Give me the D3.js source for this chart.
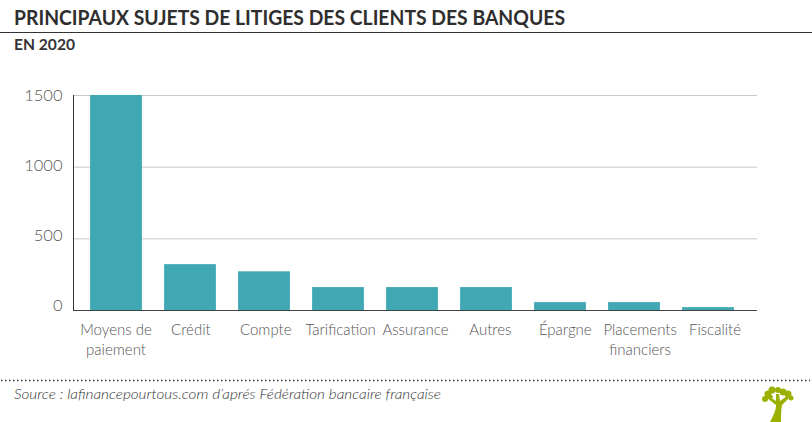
<!DOCTYPE html>
<html>
<head>
<meta charset="utf-8">
<script src="https://cdn.jsdelivr.net/npm/d3@7"></script>
<style>
	html, body { margin: 0; padding: 0; background: #fff; }
	svg { display: block; }
	text { font-family: Lato, "Open Sans", sans-serif; }
</style>
</head>
<body>
<svg id="chart" width="812" height="422"></svg>
<script>
const categories = ["Moyens de|paiement", "Crédit", "Compte", "Tarification", "Assurance", "Autres", "Épargne", "Placements|financiers", "Fiscalité"];
const values = [1500, 320, 270, 160, 160, 160, 55, 55, 20];
const yTicks = [0, 500, 1000, 1500];

const svg = d3.select("#chart");

const x = d3.scaleBand().domain(categories).range([79, 745]).paddingInner(0.3).paddingOuter(0.15);
// the labels drift a bit to the right of the bars in the original, and the
// y labels sit closer together than the gridlines
const xLabel = d3.scalePoint().domain(categories).range([116, 715]);
const y = d3.scaleLinear().domain([0, 1500]).range([310, 95]);
const yLabel = d3.scaleLinear().domain([0, 1500]).range([305, 95]);

// Title block
svg.append("text").attr("x", 14).attr("y", 25)
	.attr("textLength", 551).attr("lengthAdjust", "spacingAndGlyphs")
	.style("font-size", "21px").style("font-weight", 700).style("fill", "#2e2e2e")
	.text("PRINCIPAUX SUJETS DE LITIGES DES CLIENTS DES BANQUES");
svg.append("line").attr("x1", 0).attr("x2", 812).attr("y1", 32.5).attr("y2", 32.5)
	.style("stroke", "#333").style("stroke-width", 1);
svg.append("text").attr("x", 14).attr("y", 50)
	.attr("textLength", 61).attr("lengthAdjust", "spacingAndGlyphs")
	.style("font-size", "15px").style("font-weight", 700).style("fill", "#333")
	.text("EN 2020");

// Gridlines
svg.selectAll("line.grid")
	.data(yTicks.filter(d => d > 0))
	.enter().append("line")
	.attr("class", "grid")
	.attr("x1", 73).attr("x2", 757)
	.attr("y1", d => y(d) + 0.5).attr("y2", d => y(d) + 0.5)
	.style("stroke", "#c8c8c8").style("stroke-width", 1);

// Y axis
const yAxis = svg.append("g")
	.attr("transform", "translate(73.5,0.5)")
	.call(d3.axisLeft(yLabel).tickValues(yTicks).tickSize(0).tickPadding(11).tickFormat(d => d));
yAxis.select(".domain").remove();
yAxis.selectAll("text")
	.style("font-family", "Lato, sans-serif").style("font-size", "16.5px").style("font-weight", 300).style("fill", "#555");
yAxis.selectAll(".tick text").attr("dy", "0.32em");
svg.append("line").attr("x1", 73.5).attr("x2", 73.5).attr("y1", y(1500)).attr("y2", y(0))
	.style("stroke", "#333").style("stroke-width", 1);

// Baseline
svg.append("line").attr("x1", 73).attr("x2", 757).attr("y1", 310.5).attr("y2", 310.5)
	.style("stroke", "#444").style("stroke-width", 1);

// Bars
svg.selectAll("rect.bar")
	.data(categories)
	.enter().append("rect")
	.attr("class", "bar")
	.attr("x", d => x(d))
	.attr("width", x.bandwidth())
	.attr("y", (d, i) => y(values[i]))
	.attr("height", (d, i) => y(0) - y(values[i]))
	.style("fill", "#40a8b3");

// Category labels, two lines where the name has a break
svg.selectAll("text.cat")
	.data(categories)
	.enter().append("text")
	.attr("class", "cat")
	.attr("text-anchor", "middle")
	.style("font-size", "15px").style("font-weight", 300).style("fill", "#555")
	.each(function (d) {
		d3.select(this).selectAll("tspan")
			.data(d.split("|"))
			.enter().append("tspan")
			.attr("x", xLabel(d))
			.attr("y", (t, i) => 335 + i * 20)
			.text(t => t);
	});

// Footer
svg.append("line").attr("x1", 1).attr("x2", 810).attr("y1", 380.5).attr("y2", 380.5)
	.style("stroke", "#333").style("stroke-width", 1.5).style("stroke-dasharray", "1.5 2.5");
svg.append("text").attr("x", 14).attr("y", 399)
	.attr("textLength", 427).attr("lengthAdjust", "spacingAndGlyphs")
	.style("font-size", "14px").style("font-style", "italic").style("font-weight", 300).style("fill", "#333")
	.text("Source : lafinancepourtous.com d’aprés Fédération bancaire française");

// Tree logo
const logo = svg.append("g").attr("transform", "translate(775,388)").style("fill", "#9bb000");
logo.append("path").attr("d", "M-5 34 C-1 26 1 22 1 17 L-8 10 L-7 8 L1 13 L1 6 L4 6 L5 13 L12 8 L14 10 L7 17 C6 22 6 28 6 34 Z");
[[-3, 2, 3.5], [-7, 6, 3.5], [-10, 11, 3], [3, 2, 3], [8, 4, 3.5], [13, 6, 3.5], [16, 10, 2.5], [-4, 9, 2]].forEach(c => {
	logo.append("circle").attr("cx", c[0]).attr("cy", c[1]).attr("r", c[2]);
});
</script>
</body>
</html>
